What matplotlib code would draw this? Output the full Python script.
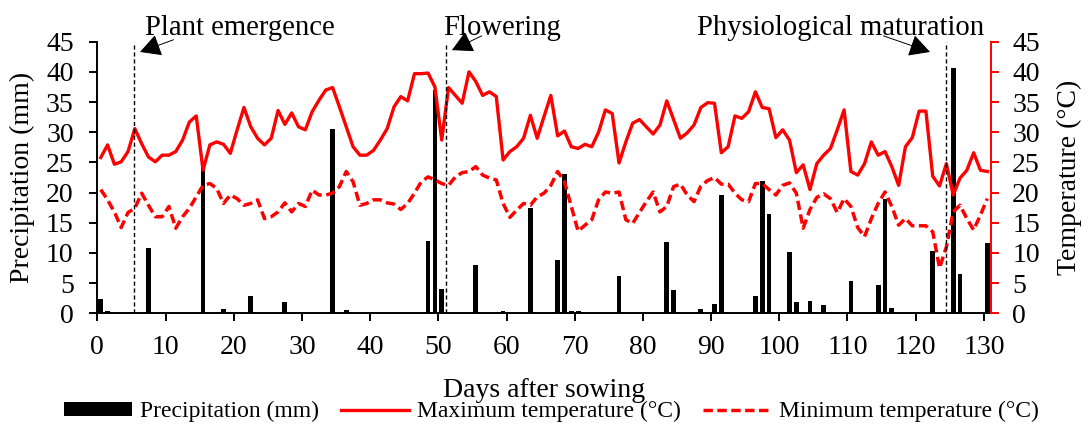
import numpy as np
import matplotlib.pyplot as plt
from matplotlib.patches import Patch
from matplotlib.lines import Line2D

plt.rcParams['font.family'] = ['Liberation Serif', 'DejaVu Serif']

# daily weather, day 0 .. 130 after sowing
days = np.arange(131)

tmax = [25.8, 27.9, 24.7, 25.1, 26.8, 30.6, 28.1, 25.9, 25.1, 26.2,
        26.2, 26.8, 28.7, 31.7, 32.7, 23.7, 27.9, 28.4, 28.0, 26.5,
        30.4, 34.1, 30.9, 29.0, 27.9, 29.0, 33.6, 31.3, 33.2, 30.9,
        30.4, 33.4, 35.3, 37.0, 37.4, 34.2, 30.9, 27.6, 26.2, 26.2,
        27.0, 28.7, 30.6, 34.2, 35.9, 35.2, 39.7, 39.7, 39.8, 37.5,
        28.7, 37.4, 36.1, 34.8, 40.0, 38.4, 36.1, 36.7, 35.9, 25.4,
        26.8, 27.6, 29.0, 32.8, 29.0, 32.6, 36.1, 29.4, 30.2, 27.6,
        27.3, 28.0, 27.6, 30.0, 33.7, 33.1, 24.9, 28.4, 31.5, 32.1,
        30.9, 29.7, 31.2, 35.2, 32.1, 29.0, 29.9, 31.2, 34.1, 34.9,
        34.8, 26.6, 27.6, 32.7, 32.3, 33.4, 36.7, 34.1, 33.9, 29.1,
        30.4, 28.7, 23.3, 24.6, 20.5, 24.8, 26.2, 27.3, 30.4, 33.7,
        23.5, 22.9, 24.8, 28.4, 26.2, 26.8, 24.3, 21.2, 27.6, 29.1,
        33.5, 33.5, 22.7, 21.1, 24.8, 19.6, 22.4, 23.7, 26.6, 23.7, 23.5]

tmin = [20.5, 18.8, 16.8, 14.2, 16.7, 17.4, 19.9, 17.9, 16.0, 16.0,
        17.7, 14.1, 16.0, 17.4, 19.3, 21.2, 21.5, 20.7, 18.2, 19.6,
        19.0, 17.9, 18.2, 18.8, 15.7, 16.0, 16.8, 18.3, 16.8, 18.2,
        17.7, 20.4, 19.6, 19.6, 19.9, 21.0, 23.5, 21.8, 17.9, 18.2,
        18.8, 18.8, 18.3, 18.1, 17.2, 18.2, 19.9, 21.8, 22.6, 22.1,
        21.5, 21.2, 22.6, 23.3, 23.5, 24.3, 22.9, 22.4, 22.1, 18.2,
        15.9, 17.1, 18.2, 17.9, 19.3, 19.9, 21.2, 23.5, 21.8, 17.7,
        13.6, 14.6, 15.5, 18.8, 20.1, 19.9, 20.1, 15.5, 14.9, 16.7,
        18.5, 20.1, 16.8, 17.7, 21.0, 21.4, 19.6, 18.5, 21.1, 22.0,
        22.5, 21.4, 21.4, 19.9, 18.8, 18.5, 21.5, 21.5, 20.5, 19.6,
        21.2, 21.6, 19.9, 14.1, 17.2, 19.2, 19.8, 19.0, 16.7, 19.0,
        17.7, 14.2, 12.7, 15.7, 18.2, 20.1, 17.7, 14.6, 15.7, 14.5,
        14.5, 14.5, 13.5, 7.5, 11.0, 16.8, 17.9, 15.7, 13.8, 16.3, 19.0]

rain_days = [0, 1, 7, 10, 15, 18, 22, 27, 30, 34, 36, 48, 49, 50, 55, 59,
             63, 67, 68, 69, 70, 76, 77, 83, 84, 87, 88, 90, 91, 96, 97, 98,
             101, 102, 104, 106, 110, 113, 114, 115, 116, 121, 122, 125,
             126, 127, 130]
rain_mm = [2.3, 0.3, 10.8, 0.1, 24.0, 0.7, 2.9, 1.9, 0.1, 30.6, 0.5, 12.0,
           37.0, 4.0, 8.0, 0.3, 17.4, 8.9, 23.0, 0.3, 0.3, 6.2, 0.1, 11.8,
           3.9, 0.1, 0.7, 1.5, 19.6, 2.8, 22.0, 16.4, 10.2, 1.9, 2.1, 1.3,
           5.4, 0.1, 4.7, 18.9, 0.8, 0.1, 10.3, 40.6, 6.5, 0.1, 11.6]

stage_names = ['Plant emergence', 'Flowering', 'Physiological maturation']
stage_x = [5.4, 51.2, 124.4]

yticks = np.arange(0, 50, 5)
xticks = np.arange(0, 140, 10)

fig = plt.figure(figsize=(10.9, 4.25), dpi=100)
ax = fig.add_axes([0.0893, 0.2628, 0.8196, 0.6391])
ax2 = ax.twinx()

# bars / points sit in the middle of each day slot
ax.bar(np.array(rain_days) + 0.5, rain_mm, width=0.7, color='black')
ax2.plot(days + 0.5, tmax, color='red', lw=2.4, solid_joinstyle='round')
ax2.plot(days + 0.5, tmin, color='red', lw=2.5, linestyle=(0, (2.7, 1.3)))

for xs in stage_x:
    ax2.axvline(xs, color='black', lw=1.0, linestyle=(0, (3, 2)))

# stage labels with arrows
ann = [((7.0, 46.1), (6.26, 43.3), (0.15, 0.05)),
       ((50.66, 46.1), (52.0, 43.6), (0.33, 0.2)),
       ((87.9, 46.1), (122.1, 43.3), (0.65, 0.2))]
for name, (txt, tip, rp) in zip(stage_names, ann):
    ax2.annotate(name, xy=tip, xytext=txt, fontsize=20.6, ha='left', va='baseline',
                 annotation_clip=False,
                 arrowprops=dict(arrowstyle='-|>,head_length=0.65,head_width=0.35',
                                 color='black', lw=0.7, relpos=rp, patchA=None,
                                 shrinkA=0, shrinkB=0, mutation_scale=20))

ax.set_xlim(0, 131)
ax.set_ylim(0, 45)
ax2.set_ylim(0, 45)
ax.set_xticks(xticks)
ax.set_yticks(yticks)
ax2.set_yticks(yticks)

for a in (ax, ax2):
    a.spines['top'].set_visible(False)
ax.spines['right'].set_visible(False)
ax2.spines['left'].set_visible(False)
ax2.spines['bottom'].set_visible(False)
ax.spines['left'].set_linewidth(1.4)
ax.spines['bottom'].set_linewidth(1.4)
ax2.spines['right'].set_linewidth(1.4)
ax2.spines['right'].set_color('red')

ax.tick_params(axis='x', direction='out', length=5.5, width=1.4, labelsize=20, pad=10)
ax.tick_params(axis='y', direction='out', length=5.5, width=1.4, labelsize=20, pad=11.5)
ax2.tick_params(axis='y', direction='out', length=5.5, width=1.4, labelsize=20, pad=10,
                color='red', labelcolor='black')

ax.set_xlabel('Days after sowing', fontsize=20)
ax.set_ylabel('Precipitation (mm)', fontsize=20)
ax2.set_ylabel('Temperature (°C)', fontsize=20)
ax.xaxis.set_label_coords(0.5, -0.238)
ax.yaxis.set_label_coords(-0.07, 0.5)
ax2.yaxis.set_label_coords(1.074, 0.5)

handles = [Patch(facecolor='black'),
           Line2D([], [], color='red', lw=2.4),
           Line2D([], [], color='red', lw=2.5, linestyle=(0, (2.7, 1.3)))]
labels = ['Precipitation (mm)', 'Maximum temperature (°C)', 'Minimum temperature (°C)']
fig.legend(handles, labels, loc='center', bbox_to_anchor=(0.506, 0.031), ncol=3,
           frameon=False, fontsize=17, handlelength=2.87, handletextpad=0.34,
           columnspacing=0.95, handleheight=0.5)

plt.savefig('out.png', dpi=100)
